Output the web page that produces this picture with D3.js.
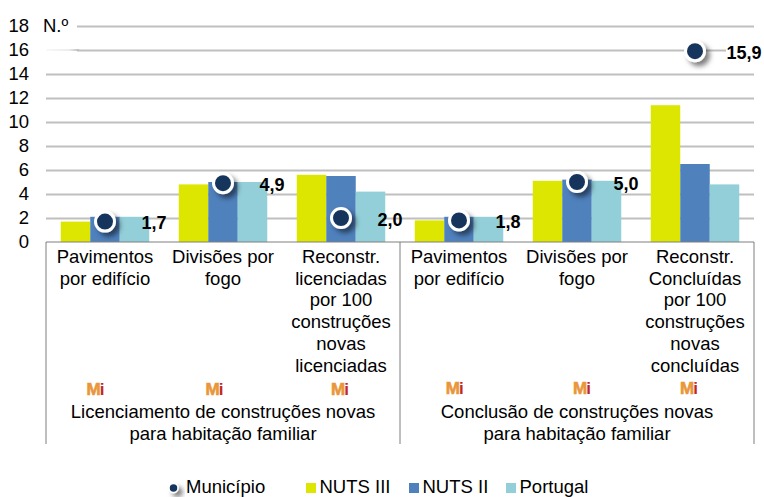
<!DOCTYPE html>
<html>
<head>
<meta charset="utf-8">
<script src="https://cdn.jsdelivr.net/npm/d3@7"></script>
<style>
body { margin: 0; background: #fff; }
text { font-family: "Liberation Sans", Arial, sans-serif; }
</style>
</head>
<body>
<div id="chart"></div>
<script>
// values
const categories = ["Pavimentos|por edifício", "Divisões por|fogo", "Reconstr.|licenciadas|por 100|construções|novas|licenciadas",
    "Pavimentos|por edifício", "Divisões por|fogo", "Reconstr.|Concluídas|por 100|construções|novas|concluídas"];
const groupLabels = ["Licenciamento de construções novas|para habitação familiar", "Conclusão de construções novas|para habitação familiar"];
const seriesNames = ["NUTS III", "NUTS II", "Portugal"];
const nuts3 = [1.7, 4.8, 5.6, 1.8, 5.1, 11.4];
const nuts2 = [2.1, 5.0, 5.5, 2.1, 5.2, 6.5];
const portugal = [2.1, 5.0, 4.2, 2.1, 5.1, 4.8];
const municipio = [1.7, 4.9, 2.0, 1.8, 5.0, 15.9];
const yTicks = d3.range(0, 20, 2);

const colors = ["#dde600", "#4f81bd", "#92cfd9"];
const dark = "#17365d";
const fontSize = 18.5;

let margin = {top: 26, right: 10, bottom: 255, left: 46},
    width = 764 - margin.left - margin.right,
    height = 497 - margin.top - margin.bottom;

let root = d3.select("#chart").append("svg")
    .attr("width", 764)
    .attr("height", 497);

let defs = root.append("defs");
let shadow = defs.append("filter").attr("id", "shadow")
    .attr("x", "-50%").attr("y", "-50%").attr("width", "220%").attr("height", "220%");
shadow.append("feDropShadow")
    .attr("dx", 4).attr("dy", 4).attr("stdDeviation", 2.5)
    .attr("flood-color", "#000").attr("flood-opacity", 0.5);
let fade = defs.append("linearGradient").attr("id", "fade");
fade.append("stop").attr("offset", "0").attr("stop-color", "#bfbfbf").attr("stop-opacity", 0.1);
fade.append("stop").attr("offset", "0.7").attr("stop-color", "#bfbfbf").attr("stop-opacity", 0.3);
fade.append("stop").attr("offset", "1").attr("stop-color", "#bfbfbf");

let svg = root.append("g")
    .attr("transform", "translate(" + margin.left + "," + margin.top + ")");

let x = d3.scaleBand().domain(d3.range(categories.length)).range([0, width]);
let x1 = d3.scaleBand().domain(seriesNames).range([0, x.bandwidth()]).paddingOuter(0.5).paddingInner(0);
let y = d3.scaleLinear().domain([0, 18]).range([height, 0]);

// gridlines and Y axis
svg.append("g")
    .call(d3.axisLeft(y).tickValues(yTicks.slice(1)).tickSize(-width).tickFormat(""))
    .call(g => g.select(".domain").remove())
    .selectAll("line")
    .attr("stroke", "#bfbfbf")
    .attr("stroke-width", 2);
// the unit label sits over the start of the top gridline
svg.append("rect").attr("x", -2).attr("y", y(18) - 3).attr("width", 33).attr("height", 6).attr("fill", "#fff");
svg.append("rect").attr("x", -2).attr("y", y(16) - 3).attr("width", 33).attr("height", 6).attr("fill", "#fff");
svg.append("rect").attr("x", 0).attr("y", y(16) - 1).attr("width", 33).attr("height", 2).attr("fill", "url(#fade)");

let yAxis = svg.append("g")
    .call(d3.axisLeft(y).tickValues(yTicks).tickSize(0).tickPadding(17))
    .call(g => g.select(".domain").remove());
yAxis.selectAll("text")
    .attr("font-size", fontSize)
    .attr("fill", "#000")
    .style("font-family", '"Liberation Sans", Arial, sans-serif');

svg.append("text")
    .attr("x", -3).attr("y", y(18) + 6)
    .attr("font-size", fontSize)
    .text("N.º");

// bars
[nuts3, nuts2, portugal].forEach((values, s) => {
    svg.append("g").selectAll("rect")
        .data(values)
        .enter()
        .append("rect")
        .attr("x", (d, i) => x(i) + x1(seriesNames[s]))
        .attr("y", d => y(d))
        .attr("width", x1.bandwidth())
        .attr("height", d => y(0) - y(d))
        .attr("fill", colors[s]);
});

// table lines under the plot
let tableBottom = 444 - margin.top;
svg.append("line").attr("x1", 0).attr("x2", width).attr("y1", y(0)).attr("y2", y(0))
    .attr("stroke", "#7f7f7f").attr("stroke-width", 1);
svg.append("g").selectAll("line")
    .data([0, 3, 6])
    .enter()
    .append("line")
    .attr("x1", d => d === 6 ? width : x(d))
    .attr("x2", d => d === 6 ? width : x(d))
    .attr("y1", y(0))
    .attr("y2", tableBottom)
    .attr("stroke", "#7f7f7f")
    .attr("stroke-width", 1);

// category labels
let catLabels = svg.append("g").selectAll("text")
    .data(categories)
    .enter()
    .append("text")
    .attr("text-anchor", "middle")
    .attr("font-size", fontSize)
    .attr("fill", "#000");
catLabels.selectAll("tspan")
    .data((d, i) => d.split("|").map(t => ({t: t, i: i})))
    .enter()
    .append("tspan")
    .attr("x", d => x(d.i) + x.bandwidth() / 2)
    .attr("y", (d, j) => y(0) + 21 + j * 21.7)
    .text(d => d.t);

// group labels
let grpLabels = svg.append("g").selectAll("text")
    .data(groupLabels)
    .enter()
    .append("text")
    .attr("text-anchor", "middle")
    .attr("font-size", fontSize)
    .attr("fill", "#000");
grpLabels.selectAll("tspan")
    .data((d, i) => d.split("|").map(t => ({t: t, i: i})))
    .enter()
    .append("tspan")
    .attr("x", d => x(d.i * 3) + x.bandwidth() * 1.5)
    .attr("y", (d, j) => 392 + j * 22)
    .text(d => d.t);

// little Mi marks
let miNudge = [-9.5, -8.5, -1, -4.3, 5, -6];
let mi = svg.append("g").selectAll("text")
    .data(categories)
    .enter()
    .append("text")
    .attr("x", (d, i) => x(i) + x.bandwidth() / 2 + miNudge[i])
    .attr("y", (d, i) => i > 2 ? 368 : 369)
    .attr("text-anchor", "middle")
    .attr("font-size", 17)
    .attr("font-weight", "bold");
mi.append("tspan").attr("fill", "#e9963a").attr("stroke", "#e9963a").attr("stroke-width", 0.6).text("M");
mi.append("tspan").attr("fill", "#c0281e").attr("dx", -1).text("i");

// municipio points
svg.append("g").selectAll("circle")
    .data(municipio)
    .enter()
    .append("circle")
    .attr("cx", (d, i) => x(i) + x.bandwidth() / 2)
    .attr("cy", d => y(d))
    .attr("r", 9.5)
    .attr("fill", dark)
    .attr("stroke", "#fff")
    .attr("stroke-width", 3)
    .attr("filter", "url(#shadow)");

// white behind the 15,9 label, it covers the gridline there
svg.append("rect")
    .attr("x", x(5) + x.bandwidth() / 2 + 31).attr("y", y(16) - 3)
    .attr("width", 30).attr("height", 6).attr("fill", "#fff");

svg.append("g").selectAll("text")
    .data(municipio)
    .enter()
    .append("text")
    .attr("x", (d, i) => x(i) + x.bandwidth() / 2 + 49)
    .attr("y", d => y(d) + 7.5)
    .attr("text-anchor", "middle")
    .attr("font-size", 18)
    .attr("font-weight", "bold")
    .attr("fill", "#000")
    .text(d => d.toFixed(1).replace(".", ","));

// legend, text lifted a little so the descenders stay inside the window
let legend = root.append("g").attr("transform", "translate(0,488)");
legend.append("circle").attr("cx", 173.5).attr("cy", 0).attr("r", 4.5)
    .attr("fill", dark).attr("stroke", "#fff").attr("stroke-width", 1.5).attr("filter", "url(#shadow)");
legend.append("text").attr("x", 186).attr("y", 5).attr("font-size", fontSize).text("Município");
let legendX = [306, 409, 506];
seriesNames.forEach((name, s) => {
    legend.append("rect").attr("x", legendX[s]).attr("y", -5).attr("width", 10).attr("height", 10).attr("fill", colors[s]);
    legend.append("text").attr("x", legendX[s] + 13.5).attr("y", 5).attr("font-size", fontSize).text(name);
});
</script>
</body>
</html>
